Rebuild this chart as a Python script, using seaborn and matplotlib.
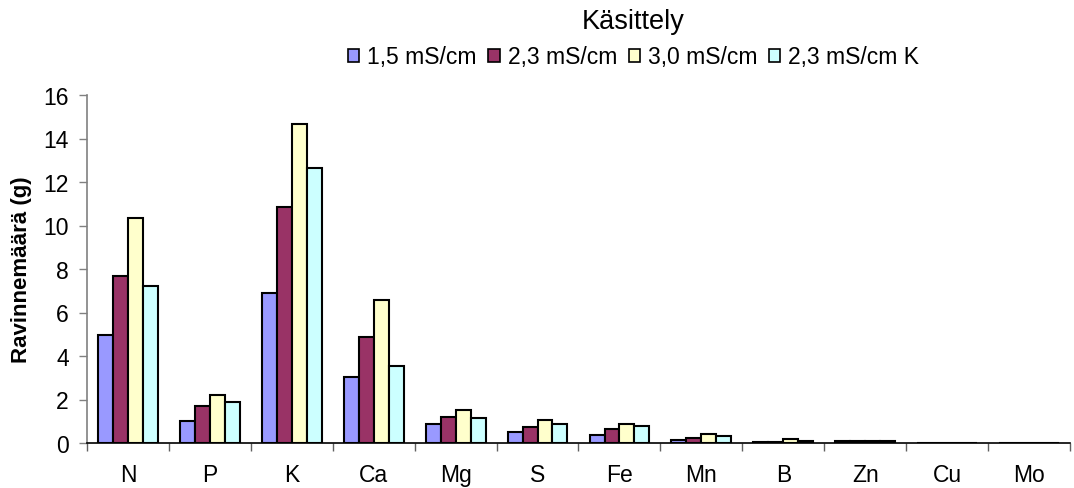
import matplotlib
matplotlib.use("Agg")
import matplotlib.pyplot as plt
from matplotlib.patches import Patch
from matplotlib.ticker import FixedLocator
import seaborn as sns
import pandas as pd

categories = ["N", "P", "K", "Ca", "Mg", "S", "Fe", "Mn", "B", "Zn", "Cu", "Mo"]
series_names = ["1,5 mS/cm", "2,3 mS/cm", "3,0 mS/cm", "2,3 mS/cm K"]
v_15 = [4.95, 1.02, 6.9, 3.03, 0.87, 0.49, 0.38, 0.15, 0.06, 0.07, 0.01, 0.0]
v_23 = [7.7, 1.68, 10.85, 4.87, 1.2, 0.72, 0.64, 0.24, 0.06, 0.07, 0.01, 0.0]
v_30 = [10.35, 2.2, 14.65, 6.58, 1.52, 1.04, 0.87, 0.40, 0.17, 0.08, 0.01, 0.0]
v_23k = [7.2, 1.9, 12.65, 3.52, 1.13, 0.87, 0.79, 0.31, 0.07, 0.07, 0.01, 0.0]
colors = ["#9999FF", "#993366", "#FFFFCC", "#CCFFFF"]

rows = []
for name, vals in zip(series_names, [v_15, v_23, v_30, v_23k]):
    for c, v in zip(categories, vals):
        rows.append({"Ravinne": c, "Käsittely": name, "Arvo": v})
df = pd.DataFrame(rows)

sns.set_style("white")
plt.rcParams["font.family"] = ["Liberation Sans", "DejaVu Sans"]
plt.rcParams["text.color"] = "black"
plt.rcParams["axes.labelcolor"] = "black"

fig = plt.figure(figsize=(10.74, 4.89), dpi=100)
ax = fig.add_axes([87 / 1074, 1 - 444 / 489, (1070 - 87) / 1074, (444 - 96) / 489])

sns.barplot(data=df, x="Ravinne", y="Arvo", hue="Käsittely", order=categories,
            hue_order=series_names, palette=colors, edgecolor="black",
            linewidth=1.5, width=0.73, errorbar=None, ax=ax, legend=False,
            saturation=1)

ax.set_xlim(-0.5, len(categories) - 0.5)
ax.set_ylim(0, 16)
ax.set_yticks(range(0, 17, 2))
ax.set_xlabel("")
ax.set_ylabel("Ravinnemäärä (g)", fontsize=16, fontweight="bold", labelpad=8, color="black")
ax.tick_params(axis="y", labelsize=16.5, length=6, width=1, color="#808080",
               labelcolor="black", direction="out", left=True, pad=7)
ax.tick_params(axis="x", which="major", labelsize=16.5, length=0, pad=14.5, labelcolor="black")
ax.xaxis.set_minor_locator(FixedLocator([i + 0.5 for i in range(-1, len(categories))]))
ax.tick_params(axis="x", which="minor", length=5.5, width=1, color="#606060", direction="out", bottom=True)

for s in ["top", "right"]:
    ax.spines[s].set_visible(False)
ax.spines["left"].set_color("#808080")
ax.spines["left"].set_linewidth(1.2)
ax.spines["bottom"].set_color("black")
ax.spines["bottom"].set_linewidth(1.2)

handles = [Patch(facecolor=c, edgecolor="black", linewidth=1.2) for c in colors]
leg = fig.legend(handles, series_names, title="Käsittely", ncol=4, loc="upper center",
                 bbox_to_anchor=(0.59, 1.01), frameon=False, fontsize=16.5,
                 title_fontsize=19.5, handlelength=0.5, handleheight=0.5,
                 handletextpad=0.35, columnspacing=0.5, borderaxespad=0.2)
for t in leg.get_texts():
    t.set_color("black")
leg.get_title().set_color("black")

fig.savefig("out.png", dpi=100)
